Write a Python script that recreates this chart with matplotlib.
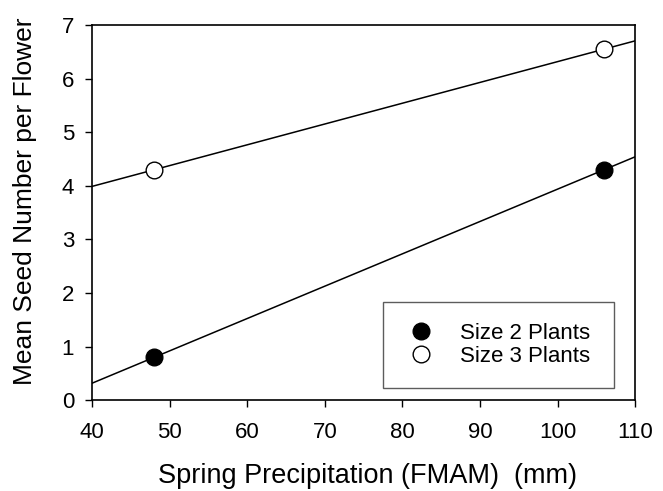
import numpy as np
import matplotlib
matplotlib.use("Agg")
from matplotlib import pyplot as plt

# Data
precip = [48, 106]
size2 = [0.8, 4.3]
size3 = [4.3, 6.55]
x_ticks = [40, 50, 60, 70, 80, 90, 100, 110]
y_ticks = [0, 1, 2, 3, 4, 5, 6, 7]

plt.rcParams['font.family'] = ['Liberation Sans', 'DejaVu Sans']

fig = plt.figure(figsize=(6.63, 4.91), dpi=100)
ax = fig.add_axes([0.139, 0.185, 0.819, 0.764])

# regression lines across the full x range
xfit = np.array([40, 110])
for ys in (size2, size3):
    k, b = np.polyfit(precip, ys, 1)
    ax.plot(xfit, k * xfit + b, color='black', lw=1.1, zorder=2)

ax.plot(precip, size2, 'o', ms=12, mfc='black', mec='black', mew=1,
        ls='none', label='Size 2 Plants', zorder=3)
ax.plot(precip, size3, 'o', ms=12, mfc='white', mec='black', mew=1,
        ls='none', label='Size 3 Plants', zorder=3)

ax.set_xlim(40, 110)
ax.set_ylim(0, 7)
ax.set_xticks(x_ticks)
ax.set_yticks(y_ticks)
ax.tick_params(direction='out', length=5, width=1, labelsize=16)
ax.tick_params(axis='x', pad=11)
ax.tick_params(axis='y', pad=8)
for s in ax.spines.values():
    s.set_linewidth(1.2)

ax.set_xlabel('Spring Precipitation (FMAM)  (mm)', fontsize=19.5)
ax.xaxis.set_label_coords(0.507, -0.168)
ax.set_ylabel('Mean Seed Number per Flower', fontsize=19)
ax.yaxis.set_label_coords(-0.102, 0.53)

leg = ax.legend(loc='lower left', bbox_to_anchor=(0.536, 0.032, 0.425, 0.227),
                mode='expand', fancybox=False, edgecolor='#333333',
                fontsize=16, markerscale=1.0, handletextpad=1.0,
                borderpad=0.95, labelspacing=0.1, handlelength=1.5,
                borderaxespad=0)
leg.get_frame().set_linewidth(1)

fig.savefig('out.png', dpi=100)
